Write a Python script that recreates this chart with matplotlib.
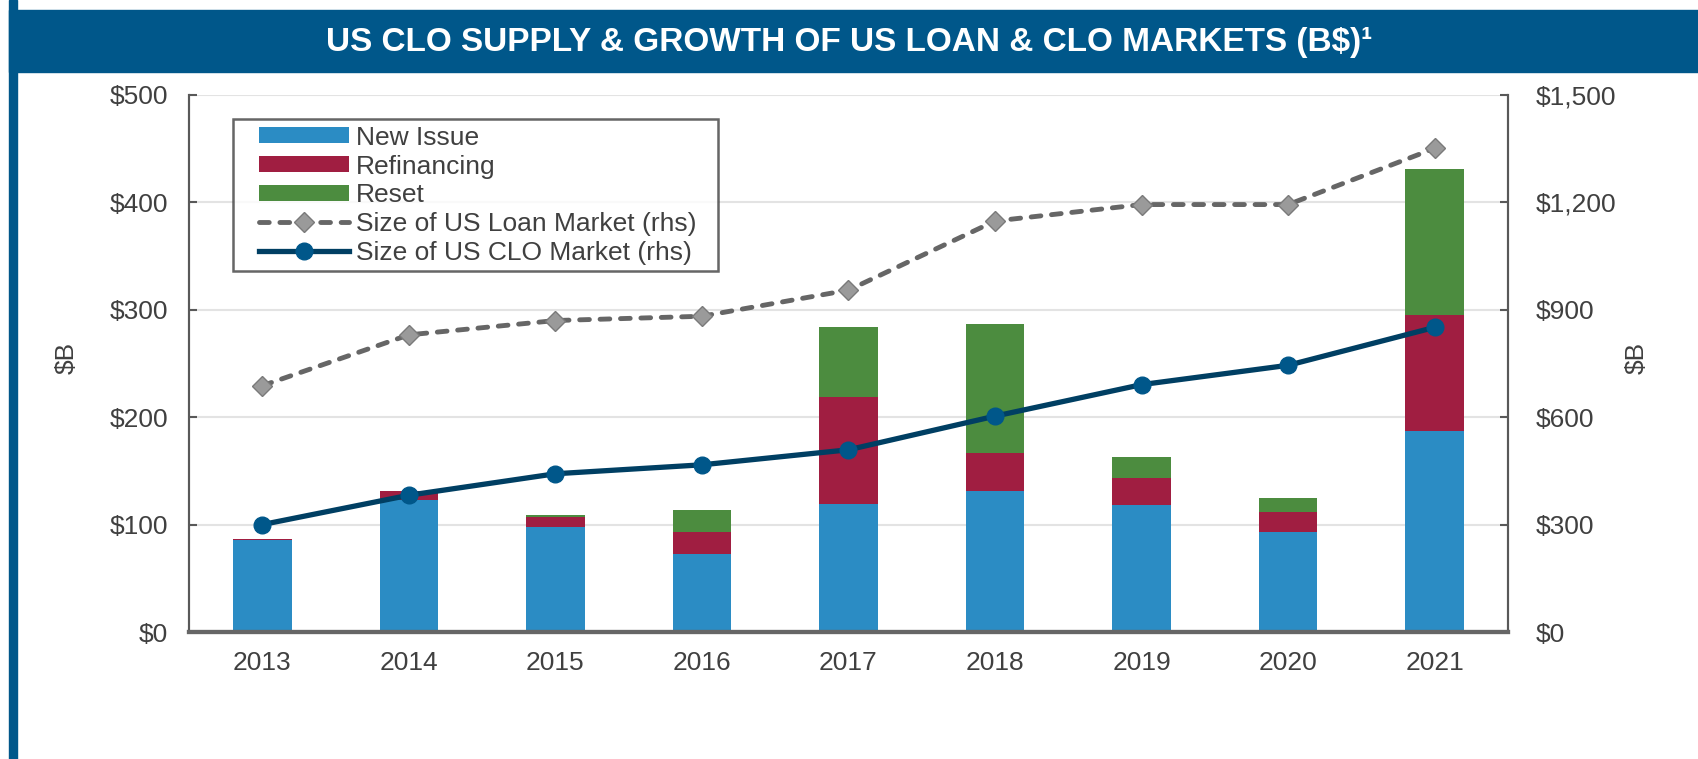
import matplotlib.pyplot as plt
from matplotlib.patches import Rectangle
from matplotlib.lines import Line2D
from matplotlib.legend_handler import HandlerPatch, HandlerLine2D
import numpy as np

plt.rcParams['font.family'] = ['Liberation Sans', 'DejaVu Sans']

# dados
years = ['2013', '2014', '2015', '2016', '2017', '2018', '2019', '2020', '2021']
new_issue = [86, 123, 98, 73, 119, 131, 118, 93, 187]
refinancing = [1, 8, 9, 20, 100, 36, 25, 19, 108]
reset = [0, 0, 2, 21, 65, 120, 20, 13, 136]
loan_market = [688, 830, 870, 882, 955, 1148, 1194, 1194, 1351]
clo_market = [300, 382, 442, 467, 509, 603, 691, 745, 851]

c_new = '#2B8CC4'
c_refi = '#A01E41'
c_reset = '#4C8C3F'
c_banner = '#00578A'
c_text = '#404040'
fs = 19

fig = plt.figure(figsize=(16.99, 7.59), dpi=100)

# faixa do titulo e borda esquerda
fig.patches.append(Rectangle((9 / 1699, 0), 8 / 1699, 1, transform=fig.transFigure,
                             color=c_banner, zorder=0))
fig.patches.append(Rectangle((9 / 1699, 1 - 72 / 759), 1, 62 / 759, transform=fig.transFigure,
                             color=c_banner, zorder=0))
fig.text(0.5, 1 - 43 / 759, 'US CLO SUPPLY & GROWTH OF US LOAN & CLO MARKETS (B$)\u00b9',
         color='white', fontsize=24, fontweight='bold', ha='center', va='center')

ax = fig.add_axes([189 / 1699, 1 - 632 / 759, 1319 / 1699, 537 / 759])
x = np.arange(len(years))
w = 0.4
b1 = ax.bar(x, new_issue, w, color=c_new, label='New Issue', zorder=2)
b2 = ax.bar(x, refinancing, w, bottom=new_issue, color=c_refi, label='Refinancing', zorder=2)
bottom3 = [a + b for a, b in zip(new_issue, refinancing)]
b3 = ax.bar(x, reset, w, bottom=bottom3, color=c_reset, label='Reset', zorder=2)

ax.set_xlim(-0.5, len(years) - 0.5)
ax.set_ylim(0, 500)
ax.set_yticks(range(0, 501, 100))
ax.set_yticklabels(['$%d' % v for v in range(0, 501, 100)])
ax.set_xticks(x)
ax.set_xticklabels(years)
ax.yaxis.grid(True, color='#E3E3E3', linewidth=1.5, zorder=0)
ax.set_axisbelow(True)
ax.tick_params(axis='both', labelsize=fs, colors=c_text)
ax.tick_params(axis='x', pad=14, length=0)
ax.tick_params(axis='y', pad=15, length=6, width=1.5, direction='in', color='#595959')
ax.set_ylabel('$B', fontsize=fs, color=c_text)
ax.yaxis.set_label_coords(-0.084, 0.51)

ax2 = ax.twinx()
l1, = ax2.plot(x, loan_market, color='#666666', linestyle=(0, (2.0, 2.2)), linewidth=3.5,
               dash_capstyle='round', marker='D', markersize=10, markerfacecolor='#9A9A9A',
               markeredgecolor='#7A7A7A', label='Size of US Loan Market (rhs)', zorder=3)
l2, = ax2.plot(x, clo_market, color='#003F63', linewidth=3.8, marker='o', markersize=12,
               markerfacecolor='#00578A', markeredgecolor='#00578A',
               label='Size of US CLO Market (rhs)', zorder=4)
ax2.set_ylim(0, 1500)
ax2.set_yticks(range(0, 1501, 300))
ax2.set_yticklabels(['$0', '$300', '$600', '$900', '$1,200', '$1,500'])
ax2.tick_params(axis='y', labelsize=fs, colors=c_text, length=6, width=1.5,
                direction='in', pad=20)
ax2.tick_params(axis='y', color='#595959')
ax2.set_ylabel('$B', fontsize=fs, color=c_text, rotation=90)
ax2.yaxis.set_label_coords(1.0887, 0.51)

for a in (ax, ax2):
    a.spines['top'].set_visible(False)
    a.spines['left'].set_color('#595959')
    a.spines['left'].set_linewidth(1.5)
    a.spines['right'].set_color('#595959')
    a.spines['right'].set_linewidth(1.5)
    a.spines['bottom'].set_color('#666666')
    a.spines['bottom'].set_linewidth(3)

# espaco a esquerda dos simbolos da legenda
xp = 0.75
hmap = {Rectangle: HandlerPatch(xpad=xp), Line2D: HandlerLine2D(xpad=xp)}
leg = ax2.legend([b1.patches[0], b2.patches[0], b3.patches[0], l1, l2],
                 ['New Issue', 'Refinancing', 'Reset', 'Size of US Loan Market (rhs)\u00a0\u00a0',
                  'Size of US CLO Market (rhs)'],
                 handler_map=hmap,
                 loc='upper left', bbox_to_anchor=(0.0334, 0.955), fontsize=fs,
                 frameon=True, fancybox=False, handlelength=3.4 + xp, handleheight=0.55,
                 labelspacing=0.18, borderpad=0.25, handletextpad=0.25, borderaxespad=0)
leg.get_frame().set_edgecolor('#404040')
leg.get_frame().set_linewidth(1.8)
for t in leg.get_texts():
    t.set_color(c_text)

fig.savefig('out.png', dpi=100)
